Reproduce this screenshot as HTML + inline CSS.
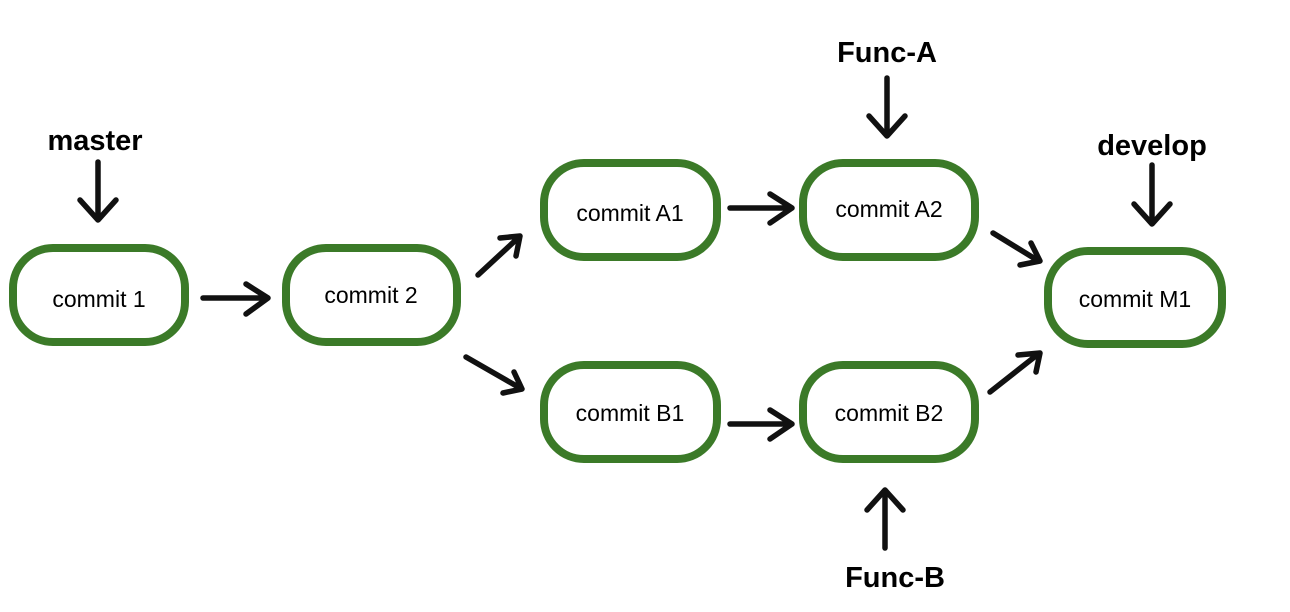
<!DOCTYPE html>
<html><head><meta charset="utf-8"><style>
html,body{margin:0;padding:0;background:#fff;width:1290px;height:612px;overflow:hidden}
svg{display:block}
text{font-family:"Liberation Sans",sans-serif;fill:#000}
</style></head><body>
<svg width="1290" height="612" viewBox="0 0 1290 612">
<g fill="none" stroke="#3b7a28" stroke-width="8">
<rect x="13" y="248" width="172" height="94" rx="40"/>
<rect x="286" y="248" width="171" height="94" rx="40"/>
<rect x="544" y="163" width="173" height="94" rx="40"/>
<rect x="803" y="163" width="172" height="94" rx="40"/>
<rect x="544" y="365" width="173" height="94" rx="40"/>
<rect x="803" y="365" width="172" height="94" rx="40"/>
<rect x="1048" y="251" width="174" height="93" rx="40"/>
</g>
<g fill="none" stroke="#111" stroke-width="5.5" stroke-linecap="round" stroke-linejoin="round">
<path d="M98 162V218M80 200L98 220L116 200"/>
<path d="M887 78V134M869 116L887 136L905 116"/>
<path d="M1152 165V222M1134 204L1152 224L1170 204"/>
<path d="M885 548V492M867 510L885 490L903 510"/>
<path d="M203 298H266M246 284L268 298L246 314"/>
<path d="M730 208H790M770 194L792 208L770 223"/>
<path d="M730 424H790M770 410L792 424L770 439"/>
<path d="M478 275L518 238M500 238L520 236L516 256"/>
<path d="M466 357L520 388M503 393L522 389L514 372"/>
<path d="M993 233L1037 260M1020 265L1040 261L1031 243"/>
<path d="M990 392L1037 355M1018 355L1040 353L1036 372"/>
</g>
<g font-size="23" text-anchor="middle">
<text x="99" y="307">commit 1</text>
<text x="371" y="303">commit 2</text>
<text x="630" y="221">commit A1</text>
<text x="889" y="217">commit A2</text>
<text x="630" y="421">commit B1</text>
<text x="889" y="421">commit B2</text>
<text x="1135" y="307">commit M1</text>
</g>
<g font-size="29" font-weight="bold" text-anchor="middle">
<text x="95" y="150">master</text>
<text x="887" y="62">Func-A</text>
<text x="1152" y="155">develop</text>
<text x="895" y="587">Func-B</text>
</g>
</svg>
</body></html>
